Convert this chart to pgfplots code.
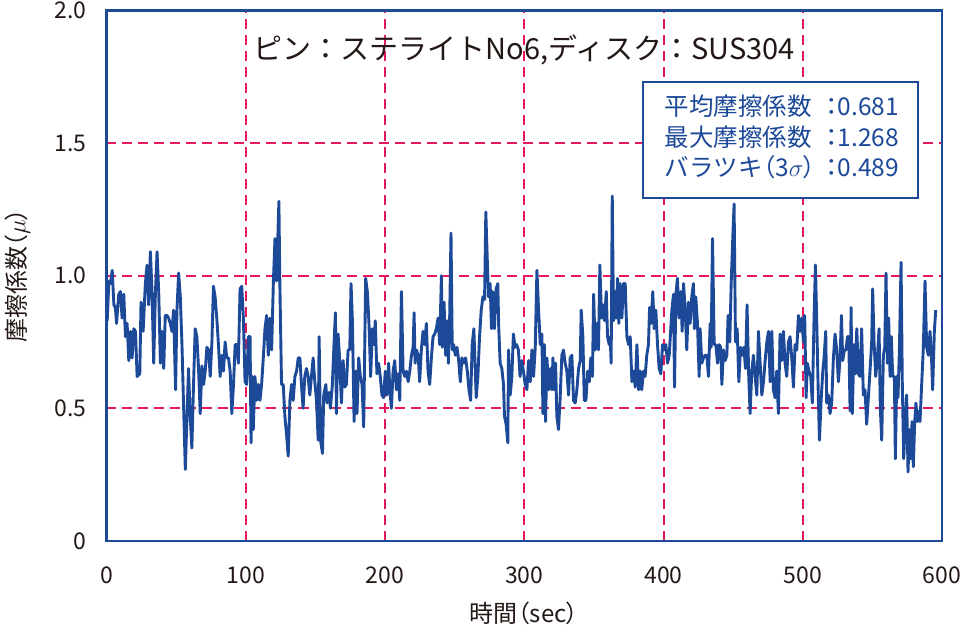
\documentclass[border=0pt]{standalone}
\usepackage{pgfplots}
\pgfplotsset{compat=1.18}
\usepackage{fontspec}
\setmainfont{Noto Sans CJK JP}
\newfontfamily\jpp{Noto Sans CJK JP}[RawFeature=+palt]
\definecolor{frameblue}{RGB}{29,73,153}
\definecolor{gridred}{RGB}{232,24,92}
\definecolor{txt}{RGB}{35,24,21}
\begin{document}
\begin{tikzpicture}
\begin{axis}[
  scale only axis, width=835.5bp, height=530.7bp,
  xmin=0, xmax=600, ymin=0, ymax=2,
  xtick={0,100,200,300,400,500,600}, xticklabels={0,100,200,300,400,500,600},
  ytick={0,0.5,1,1.5,2}, yticklabels={0,0.5,1.0,1.5,2.0},
  major tick length=0pt,
  tick style={draw=none},
  axis line style={draw=frameblue, line width=2.6bp},
  xmajorgrids, ymajorgrids,
  grid style={color=gridred, line width=2bp, line cap=butt, dash pattern=on 10bp off 6bp},
  major grid style={color=gridred, line width=2bp, line cap=butt, dash pattern=on 10bp off 6bp},
  ticklabel style={font=\fontsize{23bp}{27bp}\selectfont, text=txt, inner sep=0pt},
  yticklabel style={xshift=-20bp},
  xticklabel style={yshift=-26bp},
  xlabel={時間{\jpp （}sec{\jpp ）}},
  ylabel={摩擦係数{\jpp （}$\mu${\jpp ）}},
  label style={font=\fontsize{24bp}{28bp}\selectfont, text=txt},
  xlabel style={at={(axis description cs:0.5,-0.137)}, anchor=center},
  ylabel style={at={(axis description cs:-0.1065,0.5)}, anchor=center},
]
\addplot[color=frameblue, line width=2.9bp, line join=round, mark=none] table {
t v
0.5 0.83
1.7 0.98
2.9 0.97
4.1 1.02
5.3 0.89
6.4 0.88
7.2 0.82
8.8 0.93
10.0 0.94
11.2 0.84
12.4 0.93
13.6 0.77
14.8 0.82
16.0 0.68
17.2 0.79
18.4 0.69
19.6 0.80
20.8 0.79
22.0 0.62
23.9 0.63
24.8 0.90
26.3 0.79
27.9 0.97
29.1 1.04
30.3 0.89
31.5 1.09
32.7 0.94
33.9 0.67
35.1 0.93
36.3 1.09
37.5 0.94
38.7 0.67
39.9 0.79
41.1 0.65
42.2 0.85
43.4 0.85
44.6 0.84
45.8 0.82
47.0 0.79
48.2 0.87
49.6 0.57
50.6 0.87
51.8 1.01
53.0 0.92
54.2 0.74
55.4 0.50
56.6 0.27
57.8 0.47
58.9 0.65
60.1 0.47
61.3 0.35
62.5 0.59
63.7 0.80
64.9 0.77
66.1 0.65
67.3 0.48
68.5 0.66
69.7 0.59
70.9 0.64
72.1 0.73
73.3 0.72
74.5 0.62
75.7 0.75
76.8 0.96
78.0 0.92
79.2 0.84
80.4 0.74
81.6 0.62
82.8 0.70
84.0 0.64
85.2 0.75
86.4 0.69
87.6 0.69
88.8 0.64
90.0 0.48
91.2 0.59
92.4 0.74
93.6 0.74
94.7 0.67
95.9 0.95
97.1 0.96
98.3 0.84
99.5 0.60
100.7 0.59
101.9 0.77
103.1 0.77
103.8 0.37
104.7 0.62
105.4 0.42
106.6 0.62
107.8 0.53
109.0 0.59
110.2 0.53
111.4 0.59
112.6 0.69
113.8 0.80
115.0 0.85
116.2 0.70
117.4 0.84
118.6 0.72
119.8 0.97
121.0 1.14
122.2 0.98
122.9 1.12
123.8 1.28
124.5 0.97
125.7 0.59
126.9 0.59
128.1 0.47
129.3 0.40
130.5 0.32
131.7 0.53
132.9 0.59
134.1 0.53
135.3 0.62
136.5 0.64
137.7 0.69
138.9 0.69
140.1 0.58
141.2 0.50
142.4 0.62
143.6 0.65
144.8 0.62
146.0 0.55
147.2 0.62
148.4 0.69
149.6 0.60
150.8 0.53
152.0 0.38
152.7 0.77
153.7 0.38
155.1 0.33
156.0 0.55
157.5 0.59
158.4 0.52
159.9 0.56
160.8 0.50
162.2 0.59
163.2 0.72
164.4 0.86
165.1 0.48
166.3 0.78
167.5 0.68
168.7 0.52
169.9 0.68
171.1 0.58
172.3 0.59
173.5 0.72
174.7 0.72
175.6 0.97
176.6 0.83
177.8 0.45
179.0 0.64
179.9 0.48
181.1 0.69
182.3 0.62
183.5 0.59
184.7 0.43
186.1 0.99
187.3 0.94
188.5 0.82
189.7 0.62
190.9 0.80
192.1 0.74
193.0 0.83
194.2 0.63
195.4 0.67
196.6 0.62
197.8 0.55
199.0 0.54
200.2 0.64
201.4 0.55
202.6 0.67
203.5 0.57
204.6 0.50
205.8 0.64
207.0 0.68
208.2 0.57
209.4 0.63
210.6 0.53
211.8 0.94
213.0 0.64
214.2 0.62
215.4 0.64
216.6 0.60
217.8 0.64
219.0 0.70
220.2 0.73
220.9 0.86
221.6 0.67
222.6 0.72
223.8 0.70
224.9 0.60
226.1 0.72
227.3 0.79
228.5 0.74
229.7 0.82
230.9 0.64
232.1 0.59
233.3 0.69
234.5 0.77
235.7 0.78
236.9 0.80
238.1 0.84
239.3 0.74
240.5 1.00
241.2 0.73
242.4 0.90
243.6 0.70
244.7 0.83
245.5 0.67
246.4 0.83
247.4 1.16
248.3 0.72
249.3 0.74
250.5 0.70
251.7 0.73
252.9 0.68
254.1 0.60
255.2 0.69
256.4 0.67
257.9 0.69
259.1 0.64
260.3 0.57
261.5 0.53
262.6 0.74
263.8 0.80
265.5 0.54
266.7 0.62
267.9 0.77
269.1 0.87
270.3 0.92
271.5 0.91
272.4 1.24
273.4 1.07
274.3 0.92
275.5 0.97
276.5 0.80
277.4 0.94
278.6 0.80
279.8 0.95
281.0 0.97
281.7 0.80
282.7 0.67
283.9 0.65
285.1 0.59
285.8 0.47
287.0 0.44
288.2 0.37
288.7 0.72
289.9 0.55
291.1 0.62
292.2 0.78
293.4 0.73
294.6 0.74
295.8 0.72
297.0 0.62
298.2 0.68
299.4 0.64
300.7 0.59
301.9 0.57
303.1 0.68
304.3 0.60
305.5 0.72
306.7 0.62
307.9 0.73
309.1 1.02
310.3 0.87
311.5 0.74
312.7 0.78
313.4 0.48
314.4 0.74
315.3 0.45
316.3 0.69
317.5 0.57
318.7 0.65
319.9 0.57
320.6 0.69
321.5 0.57
322.5 0.67
323.4 0.47
324.6 0.42
325.8 0.54
327.0 0.70
328.2 0.72
329.4 0.67
330.6 0.64
331.8 0.55
333.0 0.69
334.2 0.70
335.4 0.53
336.6 0.52
337.8 0.57
339.0 0.65
340.2 0.68
340.9 0.87
342.1 0.77
343.1 0.53
344.3 0.53
345.5 0.64
346.7 0.60
347.8 0.69
349.0 0.62
349.8 0.93
351.0 0.72
352.2 0.82
353.3 0.72
354.3 1.04
355.5 0.84
356.5 0.89
357.7 0.83
358.9 0.94
359.8 0.77
361.0 0.74
361.7 0.77
362.4 0.67
363.2 1.30
364.1 0.83
365.1 0.94
366.0 0.84
367.0 0.99
367.9 0.82
368.9 0.97
370.1 0.84
371.3 0.97
372.5 0.97
373.7 0.77
374.9 0.74
376.1 0.77
377.3 0.60
378.5 0.64
379.7 0.58
380.9 0.74
382.1 0.57
383.3 0.64
384.4 0.57
385.6 0.64
386.8 0.62
388.0 0.70
389.2 0.74
390.0 0.88
391.1 0.82
392.3 0.94
393.3 0.80
394.5 0.87
395.7 0.74
396.9 0.65
398.1 0.63
399.3 0.74
400.5 0.72
401.7 0.74
402.9 0.67
404.1 0.70
406.0 0.87
407.2 0.93
407.9 0.58
408.9 0.93
410.0 0.99
411.2 0.84
412.4 0.94
413.4 0.79
414.4 0.97
415.6 0.87
416.7 0.72
417.9 0.90
419.1 0.82
420.3 0.92
421.5 0.97
422.2 0.80
423.2 0.92
424.4 0.82
425.6 0.62
426.3 0.80
427.5 0.67
428.7 0.69
429.9 0.70
431.1 0.70
432.3 0.62
433.5 0.82
434.2 0.73
435.2 1.14
436.4 0.74
437.6 0.74
438.8 0.67
440.0 0.74
441.1 0.73
441.9 0.59
443.1 0.72
444.3 0.68
445.5 0.70
446.4 0.85
447.6 0.75
448.6 0.97
449.8 1.15
450.7 1.27
451.7 0.75
452.9 0.80
454.1 0.60
455.3 0.73
456.5 0.70
457.7 0.73
458.9 0.65
460.0 0.89
461.2 0.62
462.2 0.48
463.4 0.64
464.6 0.70
465.8 0.62
467.0 0.55
468.2 0.79
469.4 0.67
470.6 0.55
471.8 0.60
473.0 0.68
474.2 0.75
475.4 0.79
476.6 0.60
477.8 0.79
478.9 0.57
480.1 0.54
481.3 0.64
482.5 0.48
483.7 0.78
484.9 0.68
486.1 0.79
487.3 0.67
488.5 0.62
489.7 0.75
490.9 0.77
492.1 0.69
493.3 0.58
494.5 0.74
495.7 0.72
496.9 0.85
498.1 0.79
499.3 0.84
500.5 0.75
501.4 0.85
502.4 0.54
503.3 0.67
504.5 0.64
505.7 0.62
506.9 0.52
508.1 0.84
509.1 1.04
510.0 0.84
511.2 0.54
512.0 0.38
513.2 0.53
514.4 0.64
515.3 0.69
516.5 0.79
517.2 0.52
518.4 0.55
519.6 0.48
520.8 0.52
522.0 0.69
523.2 0.78
524.4 0.72
525.6 0.60
526.8 0.69
527.8 0.85
528.7 0.68
529.9 0.72
531.1 0.72
532.1 0.77
533.0 0.77
534.0 0.49
534.7 0.88
535.6 0.48
536.8 0.74
537.8 0.63
538.8 0.80
540.0 0.63
541.1 0.62
542.3 0.80
543.5 0.55
544.7 0.57
545.9 0.44
547.1 0.54
548.3 0.64
549.5 0.75
550.2 0.95
551.2 0.75
552.4 0.62
553.6 0.69
554.8 0.80
555.7 0.50
556.7 0.38
557.9 0.70
558.9 0.73
559.8 1.01
560.8 0.67
561.7 0.84
562.7 0.62
563.6 0.77
564.6 0.62
565.8 0.62
566.5 0.31
567.5 0.62
568.4 0.54
569.4 0.72
570.6 1.05
571.5 0.59
572.5 0.31
573.7 0.47
574.6 0.55
575.6 0.26
576.6 0.42
577.5 0.31
578.5 0.45
579.4 0.28
580.4 0.45
581.3 0.52
582.3 0.45
583.3 0.49
584.2 0.45
585.4 0.59
586.6 0.73
587.8 0.98
589.0 0.73
590.2 0.70
591.4 0.79
592.6 0.67
593.3 0.57
594.5 0.79
595.5 0.87
};
\node[font=\fontsize{29bp}{33bp}\selectfont, text=txt] at (axis cs:300,1.85) {ピン：ステライトNo6,ディスク：SUS304};
\node[draw=frameblue, line width=1.8bp, fill=white, anchor=north west, inner xsep=22bp, inner ysep=0bp, text width=231bp, minimum height=116bp, text=frameblue, font=\fontsize{24.5bp}{30.5bp}\selectfont, align=left] at (axis cs:384.6,1.733) {\raisebox{-4bp}{\begin{tabular}{@{}l@{}l@{}}平均摩擦係数\hspace{0.55em} & {\jpp ：}0.681\\ 最大摩擦係数\hspace{0.55em} & {\jpp ：}1.268\\ バラツキ{\jpp （}3$\sigma${\jpp ）} & {\jpp ：}0.489\end{tabular}}};
\end{axis}
\pgfresetboundingbox
\path[use as bounding box] ([shift={(-106.5bp,-86bp)}]current axis.south west) rectangle ([shift={(21bp,10.3bp)}]current axis.north east);
\end{tikzpicture}
\end{document}
